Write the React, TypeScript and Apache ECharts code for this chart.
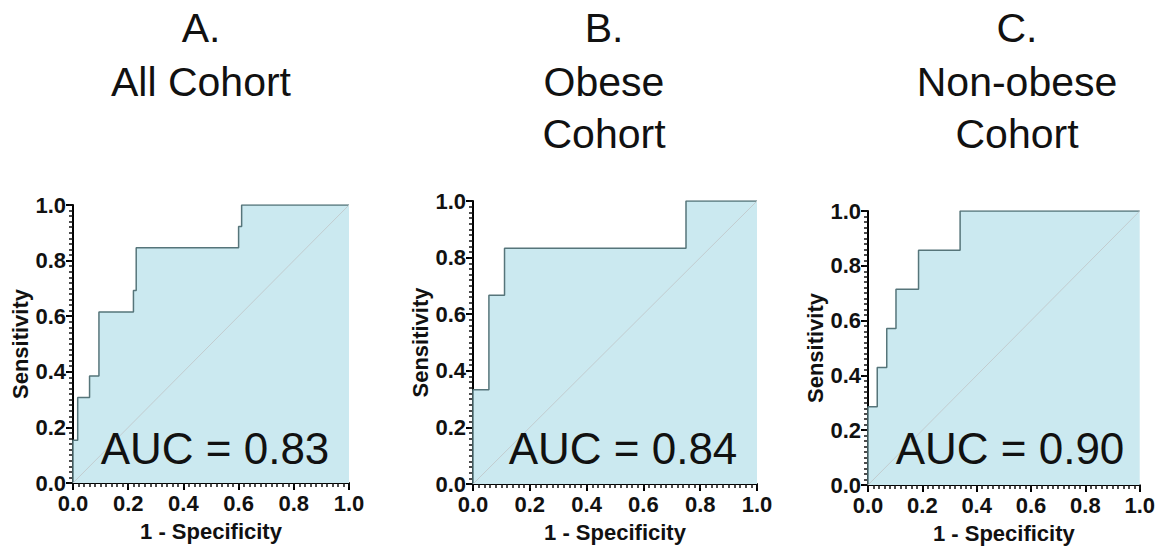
import React, { useEffect, useRef } from "react";
import * as echarts from "echarts";

// ROC curves (1 - Specificity, Sensitivity)
const fprAll = [0, 0, 0.017, 0.06, 0.094, 0.219, 0.229, 0.6, 0.611, 1.0];
const tprAll = [0, 0.154, 0.308, 0.385, 0.615, 0.692, 0.846, 0.923, 1.0, 1.0];
const fprObese = [0, 0, 0.056, 0.111, 0.75, 1.0];
const tprObese = [0, 0.333, 0.667, 0.833, 1.0, 1.0];
const fprNonObese = [0, 0, 0.034, 0.069, 0.103, 0.186, 0.339, 1.0];
const tprNonObese = [0, 0.286, 0.429, 0.571, 0.714, 0.857, 1.0, 1.0];

const panelLetters = ["A.", "B.", "C."];
const panelTitles = [["All Cohort"], ["Obese", "Cohort"], ["Non-obese", "Cohort"]];
const aucLabels = ["AUC = 0.83", "AUC = 0.84", "AUC = 0.90"];
const diagonal = [0, 1];
const majorStep = 0.2;
const minorStep = 0.02;

const FONT = "'Liberation Sans', Arial, Helvetica, sans-serif";

export default function App() {
  const ref = useRef<HTMLDivElement>(null);
  useEffect(() => {
    if (!ref.current) return;
    const chart = echarts.init(ref.current, null, { renderer: "svg" });
    const grids = [
      { left: 73, top: 205, width: 276, height: 278 },
      { left: 473, top: 201, width: 284, height: 284 },
      { left: 868, top: 211, width: 274, height: 274 },
    ];
    const curves = [
      [fprAll, tprAll],
      [fprObese, tprObese],
      [fprNonObese, tprNonObese],
    ];
    const titleCenters = [201, 604, 1017];
    const aucCenters = [215, 623, 1010];

    const axisCommon = {
      min: 0,
      max: 1,
      interval: majorStep,
      type: "value" as const,
      splitLine: { show: false },
      axisLine: { show: true, lineStyle: { color: "#000", width: 2 } },
      axisTick: { show: true, length: 7, lineStyle: { color: "#000", width: 2 } },
      axisLabel: {
        fontFamily: FONT,
        fontWeight: "bold" as const,
        fontSize: 22,
        color: "#111",
        formatter: (v: number) => v.toFixed(1),
      },
      nameLocation: "middle" as const,
      nameTextStyle: { fontFamily: FONT, fontWeight: "bold" as const, fontSize: 22, color: "#111" },
    };
    const minorCommon = {
      min: 0,
      max: 1,
      interval: minorStep,
      type: "value" as const,
      splitLine: { show: false },
      axisLine: { show: false },
      axisLabel: { show: false },
      axisTick: { show: true, length: 4, lineStyle: { color: "#111", width: 1.5 } },
    };

    const xAxis: any[] = [];
    const yAxis: any[] = [];
    grids.forEach((_, i) => {
      xAxis.push({
        ...axisCommon,
        gridIndex: i,
        name: "1 - Specificity",
        nameGap: 37,
        axisLabel: { ...axisCommon.axisLabel, margin: 9 },
      });
      yAxis.push({
        ...axisCommon,
        gridIndex: i,
        name: "Sensitivity",
        nameGap: 41,
        axisLabel: { ...axisCommon.axisLabel, margin: 7 },
      });
    });
    grids.forEach((_, i) => {
      xAxis.push({ ...minorCommon, gridIndex: i, position: "bottom" });
      yAxis.push({ ...minorCommon, gridIndex: i, position: "left" });
    });

    const series: any[] = [];
    curves.forEach(([fx, ty], i) => {
      series.push({
        type: "line",
        xAxisIndex: i,
        yAxisIndex: i,
        step: "end",
        symbol: "none",
        data: fx.map((x, k) => [x, ty[k]]),
        lineStyle: { color: "#56757a", width: 1.5 },
        areaStyle: { color: "#cbe9f0", opacity: 1 },
        z: 2,
      });
      series.push({
        type: "line",
        xAxisIndex: i,
        yAxisIndex: i,
        symbol: "none",
        data: diagonal.map((d) => [d, d]),
        lineStyle: { color: "#c2cccf", width: 1 },
        z: 3,
      });
    });

    const graphic: any[] = [];
    panelLetters.forEach((letter, i) => {
      const lines = [letter, ...panelTitles[i]];
      const ys = [27.5, 81.5, 133.5];
      lines.forEach((t, k) => {
        graphic.push({
          type: "text",
          x: titleCenters[i],
          y: ys[k],
          style: {
            text: t,
            fontFamily: FONT,
            fontSize: 41,
            fill: "#111",
            align: "center",
            verticalAlign: "middle",
          },
        });
      });
      graphic.push({
        type: "text",
        x: aucCenters[i],
        y: 448,
        z: 10,
        style: {
          text: aucLabels[i],
          fontFamily: FONT,
          fontSize: 44,
          fill: "#111",
          align: "center",
          verticalAlign: "middle",
        },
      });
    });

    chart.setOption({
      animation: false,
      backgroundColor: "#fff",
      grid: grids,
      xAxis,
      yAxis,
      series,
      graphic,
    });
    return () => chart.dispose();
  }, []);
  return (
    <div
      ref={ref}
      style={{ position: "fixed", left: 0, top: 0, width: 1158, height: 548 }}
    />
  );
}
